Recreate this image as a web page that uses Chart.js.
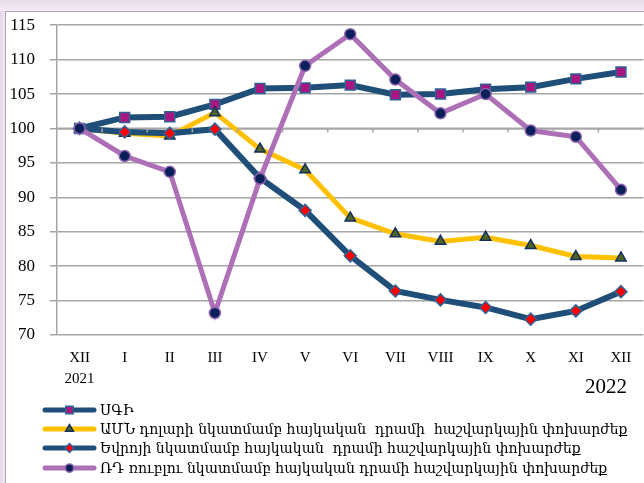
<!DOCTYPE html>
<html>
<head>
<meta charset="utf-8">
<script src="https://cdn.jsdelivr.net/npm/chart.js@4"></script>
<style>
  html, body { margin: 0; padding: 0; width: 644px; height: 483px; overflow: hidden; background: #fff; }
  /* lavender frame at top and left, as in the original picture */
  .frame { position: absolute; left: 0; top: 0; width: 644px; height: 483px;
           background: linear-gradient(180deg, #e9d9ec 0px, #f5eef6 11px, transparent 11px),
                       linear-gradient(90deg, #e6d6ea 0px, #f0e6f2 5px, transparent 5px); }
  .sheet { position: absolute; left: 5px; top: 11px; width: 700px; height: 500px; background: #fff;
           border-left: 1.5px solid #a8a8a8; border-top: 1.5px solid #a8a8a8; }
  #chart { position: absolute; left: 0; top: 0; }
  .year { position: absolute; left: 585px; top: 374px; font: 21px "Liberation Serif", serif; color: #000; }
  #legend { position: absolute; left: 42px; top: 400px; font: 14px "DejaVu Serif", serif; color: #000; }
  .row { height: 19.3px; display: flex; align-items: center; white-space: pre; }
  .row canvas { margin-right: 3px; }
</style>
</head>
<body>
<div class="frame"></div>
<div class="sheet"></div>
<canvas id="chart" width="652" height="395"></canvas>
<div class="year">2022</div>
<div id="legend"></div>
<script>
// months, Dec 2021 .. Dec 2022
const months = [['XII', '2021'], 'I', 'II', 'III', 'IV', 'V', 'VI', 'VII', 'VIII', 'IX', 'X', 'XI', 'XII'];

const seriesNames = [
  'ՍԳԻ',
  'ԱՄՆ դոլարի նկատմամբ հայկական  դրամի  հաշվարկային փոխարժեք',
  'Եվրոյի նկատմամբ հայկական  դրամի հաշվարկային փոխարժեք',
  'ՌԴ ռուբլու նկատմամբ հայկական դրամի հաշվարկային փոխարժեք'
];

const cpi = [100, 101.6, 101.7, 103.5, 105.8, 105.9, 106.3, 104.9, 105.0, 105.7, 106.0, 107.2, 108.2];
const usd = [100, 99.3, 98.9, 102.3, 97.0, 94.0, 87.0, 84.7, 83.6, 84.2, 83.0, 81.4, 81.2];
const eur = [100, 99.5, 99.3, 99.9, 92.8, 88.1, 81.5, 76.4, 75.1, 74.0, 72.3, 73.5, 76.3];
const rub = [100, 96.0, 93.7, 73.2, 92.7, 109.1, 113.7, 107.1, 102.2, 105.0, 99.7, 98.8, 91.1];

const yTicks = { min: 70, max: 115, step: 5 };
const axisCross = 100;

const NAVY = '#1f4e79';
const GRID = '#a6a6a6';

const styles = [
  { line: NAVY, width: 6, point: 'rect', radius: 7, fill: '#a8177f', edge: '#2e6395', edgeW: 1.5 },
  { line: '#ffc000', width: 5, point: 'triangle', radius: 6, fill: '#4f6228', edge: '#14305e', edgeW: 1.5 },
  { line: NAVY, width: 6, point: 'rectRot', radius: 6, fill: '#ff0000', edge: '#2e6395', edgeW: 1.5 },
  { line: '#ad6fb6', width: 5, point: 'circle', radius: 5.5, fill: '#0b1f5a', edge: '#8e63ad', edgeW: 1.5 }
];

const datasets = [cpi, usd, eur, rub].map((data, i) => ({
  label: seriesNames[i],
  data,
  borderColor: styles[i].line,
  borderWidth: styles[i].width,
  pointStyle: styles[i].point,
  pointRadius: styles[i].radius,
  pointBackgroundColor: styles[i].fill,
  pointBorderColor: styles[i].edge,
  pointBorderWidth: styles[i].edgeW,
  tension: 0,
  order: 4 - i // last series ends up on top
}));

// small tick marks hanging below the 100 line, between categories
const crossTicks = {
  id: 'crossTicks',
  afterDatasetsDraw(chart) {
    const { ctx, scales: { x, y }, chartArea } = chart;
    const yy = y.getPixelForValue(axisCross);
    const step = (chartArea.right - chartArea.left) / months.length;
    ctx.save();
    ctx.strokeStyle = GRID;
    ctx.lineWidth = 1.5;
    ctx.beginPath();
    for (let k = 1; k < months.length; k++) {
      const xx = chartArea.left + step * k;
      ctx.moveTo(xx, yy);
      ctx.lineTo(xx, yy + 4);
    }
    ctx.stroke();
    ctx.restore();
  },
  beforeDatasetsDraw(chart) {
    const { ctx, scales: { y }, chartArea } = chart;
    const yy = y.getPixelForValue(axisCross);
    ctx.save();
    ctx.strokeStyle = GRID;
    ctx.lineWidth = 2;
    ctx.beginPath();
    ctx.moveTo(chartArea.left, yy);
    ctx.lineTo(chartArea.right, yy);
    ctx.stroke();
    ctx.restore();
  }
};

new Chart(document.getElementById('chart'), {
  type: 'line',
  data: { labels: months, datasets },
  options: {
    responsive: false,
    animation: false,
    layout: { padding: { top: 24, left: 0, right: 3, bottom: 0 } },
    plugins: { legend: { display: false }, tooltip: { enabled: false } },
    scales: {
      x: {
        offset: true,
        grid: { display: false, drawTicks: false },
        border: { display: false },
        ticks: { color: '#000', padding: 12, font: { family: 'Liberation Serif', size: 15, lineHeight: 1.42 }, maxRotation: 0, autoSkip: false },
        afterFit: s => { s.height = 60; }
      },
      y: {
        min: yTicks.min,
        max: yTicks.max,
        grid: { color: GRID, lineWidth: 1.5, tickLength: 7, tickColor: GRID },
        border: { color: GRID, width: 1.5 },
        ticks: { stepSize: yTicks.step, color: '#000', padding: 15, font: { family: 'Liberation Serif', size: 17 } },
        afterFit: s => { s.width = 57; }
      }
    }
  },
  plugins: [crossTicks]
});

// legend: line sample with the marker in the middle, then the name
function swatch(st) {
  const c = document.createElement('canvas');
  c.width = 55; c.height = 16;
  const g = c.getContext('2d');
  g.strokeStyle = st.line;
  g.lineWidth = 5;
  g.lineCap = 'round';
  g.beginPath(); g.moveTo(3, 8); g.lineTo(52, 8); g.stroke();
  g.fillStyle = st.fill;
  g.strokeStyle = st.edge;
  g.lineWidth = 1.5;
  Chart.helpers.drawPoint(g, { pointStyle: st.point, radius: st.radius * 0.75, borderWidth: 1.5, rotation: 0 }, 27.5, 8);
  return c;
}

const legend = document.getElementById('legend');
seriesNames.forEach((name, i) => {
  const row = document.createElement('div');
  row.className = 'row';
  row.appendChild(swatch(styles[i]));
  const t = document.createElement('span');
  t.textContent = name;
  row.appendChild(t);
  legend.appendChild(row);
});
</script>
</body>
</html>
